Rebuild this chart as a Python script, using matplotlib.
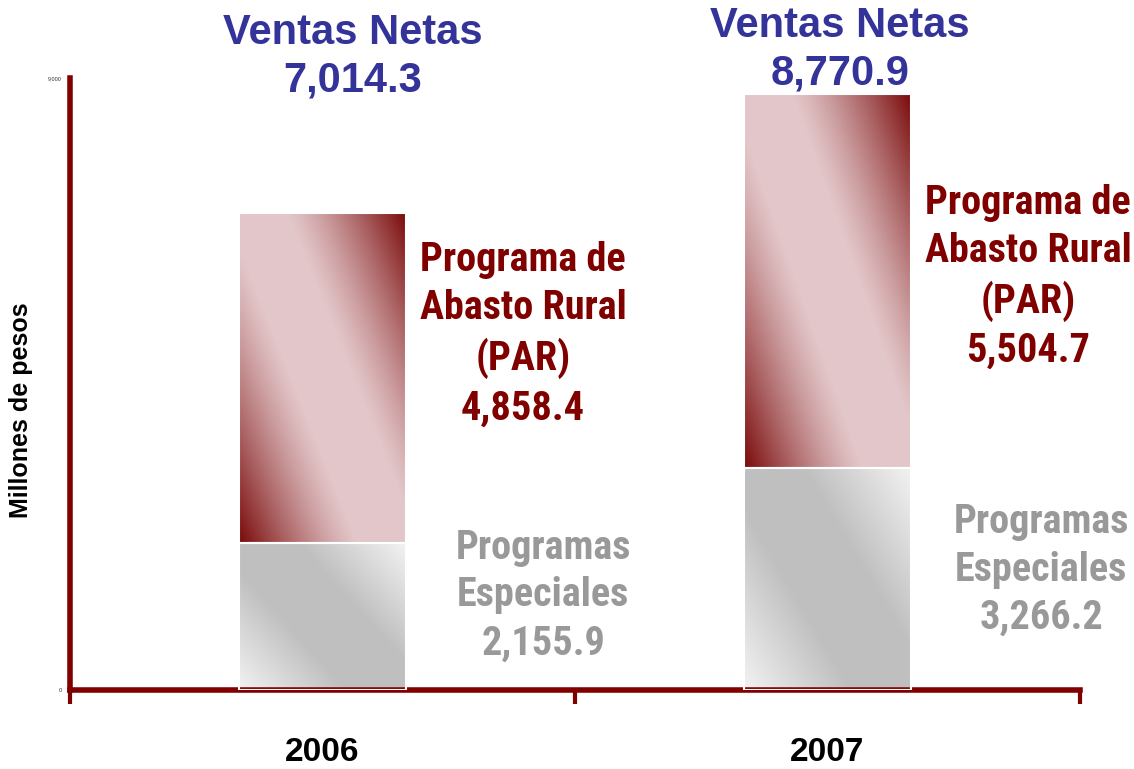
import numpy as np
import matplotlib.pyplot as plt

# datos (millones de pesos)
years = ['2006', '2007']
especiales = [2155.9, 3266.2]
par = [4858.4, 5504.7]
ventas = [7014.3, 8770.9]

narrow = ['Roboto Condensed', 'DejaVu Sans']
plt.rcParams['font.family'] = ['Liberation Sans', 'DejaVu Sans']

dark_red = '#800000'


def gradient(n_rows, n_cols, c_edge, c_mid, k, p):
    # diagonal band gradient, edge colour at top-right / bottom-left corners
    u = np.linspace(0, 1, n_cols)
    v = np.linspace(1, 0, n_rows)
    U, V = np.meshgrid(u, v)
    s = (U - 0.5) + 0.8 * (V - 0.5)
    d = np.abs(s) / 0.9
    f = np.clip((d - k) / (1 - k), 0, 1) ** p
    c_edge = np.array(c_edge)
    c_mid = np.array(c_mid)
    return c_mid + (c_edge - c_mid) * f[..., None]


def paint(ax, bar, c_edge, c_mid, k, p):
    x0, y0 = bar.get_x(), bar.get_y()
    w, h = bar.get_width(), bar.get_height()
    img = gradient(200, 100, c_edge, c_mid, k, p)
    ax.imshow(img, extent=(x0, x0 + w, y0, y0 + h), aspect='auto',
              interpolation='bilinear', zorder=2)


fig = plt.figure(figsize=(11.34, 7.69), dpi=100)
ax = fig.add_axes([0.0617, 0.1027, 0.8907, 0.7959])

x = np.arange(len(years))
b1 = ax.bar(x, especiales, width=0.33, facecolor='none', edgecolor='white', lw=1.5, zorder=3)
b2 = ax.bar(x, par, bottom=especiales, width=0.33, facecolor='none', edgecolor='white', lw=1.5, zorder=3)

for bar in b1:
    paint(ax, bar, (0.95, 0.95, 0.95), (0.75, 0.75, 0.75), 0.28, 1.0)
for bar in b2:
    paint(ax, bar, (0.48, 0.04, 0.04), (0.89, 0.78, 0.79), 0.2, 1.25)

ax.set_xlim(-0.5, 1.5)
ax.set_ylim(0, 9000)

# etiquetas
vn_pos = [(0.06, 9309), (1.025, 9420)]
par_pos = [(0.397, 5230), (1.397, 6070)]
esp_pos = [(0.437, 1390), (1.423, 1765)]

for i in range(len(years)):
    ax.text(vn_pos[i][0], vn_pos[i][1], 'Ventas Netas\n%s' % format(ventas[i], ',.1f'),
            ha='center', va='center', fontsize=30, weight='bold', color='#333399',
            linespacing=1.25, clip_on=False)
    ax.text(par_pos[i][0], par_pos[i][1],
            'Programa de\nAbasto Rural\n(PAR)\n%s' % format(par[i], ',.1f'),
            ha='center', va='center', fontsize=29, weight='bold', color=dark_red,
            family=narrow, linespacing=1.33, clip_on=False)
    ax.text(esp_pos[i][0], esp_pos[i][1],
            'Programas\nEspeciales\n%s' % format(especiales[i], ',.1f'),
            ha='center', va='center', fontsize=29, weight='bold', color='#999999',
            family=narrow, linespacing=1.33, clip_on=False)

# ejes
for side in ['top', 'right']:
    ax.spines[side].set_visible(False)
for side in ['left', 'bottom']:
    ax.spines[side].set_color(dark_red)
    ax.spines[side].set_linewidth(4)

ax.set_yticks([0, 9000])
ax.set_yticklabels(['0', '9,000'], fontsize=4, color='#333333')
ax.tick_params(axis='y', length=0, pad=6)

ax.set_xticks([-0.5, 0.5, 1.5])
ax.set_xticklabels(['', '', ''])
ax.tick_params(axis='x', which='major', length=10, width=3, color=dark_red, direction='out')
ax.set_xticks(x, minor=True)
ax.set_xticklabels(years, minor=True, fontsize=24, weight='bold')
ax.tick_params(axis='x', which='minor', length=0, pad=34)

ax.set_ylabel('Millones de pesos', fontsize=18, weight='bold')
ax.yaxis.set_label_coords(-0.037, 0.4575)

fig.savefig('out.png', dpi=100)
